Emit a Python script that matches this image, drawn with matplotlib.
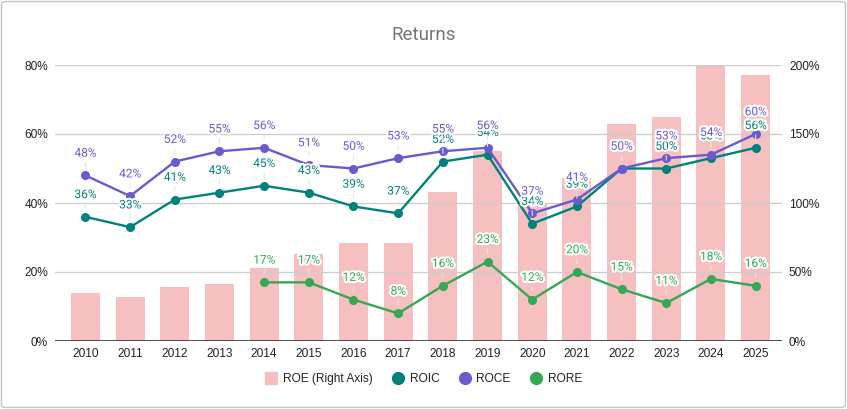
import matplotlib
matplotlib.use("Agg")
import numpy as np
import matplotlib.pyplot as plt
import matplotlib.patheffects as pe
from matplotlib.patches import FancyBboxPatch
from matplotlib.lines import Line2D
from matplotlib.ticker import PercentFormatter

years = [str(y) for y in range(2010, 2026)]
roe = [35, 32, 39, 41, 53, 63, 71, 71, 108, 138, 100, 118, 157, 162, 199, 193]
roic = [36, 33, 41, 43, 45, 43, 39, 37, 52, 54, 34, 39, 50, 50, 53, 56]
roce = [48, 42, 52, 55, 56, 51, 50, 53, 55, 56, 37, 41, 50, 53, 54, 60]
rore = [np.nan, np.nan, np.nan, np.nan, 17, 17, 12, 8, 16, 23, 12, 20, 15, 11, 18, 16]

c_roe = "#f6bfc0"
c_roic = "#00827c"
c_roce = "#6b5acf"
c_rore = "#34a853"

plt.rcParams['font.family'] = ['Liberation Sans', 'DejaVu Sans']

W, H = 847, 409
fig = plt.figure(figsize=(W / 100, H / 100), dpi=100)
fig.patch.set_facecolor("white")
fig.patches.append(FancyBboxPatch((1.5 / W, 1.5 / H), (W - 3) / W, (H - 3) / H,
                                  boxstyle="round,pad=0,rounding_size=0.006",
                                  transform=fig.transFigure, facecolor="none",
                                  edgecolor="#c4c4c4", lw=1))

ax_l, ax_r, ax_b, ax_t = 55, 782, 341, 65
ax = fig.add_axes([ax_l / W, (H - ax_b) / H, (ax_r - ax_l) / W, (ax_b - ax_t) / H])
ax2 = ax.twinx()
x = np.arange(len(years))

# bars on the right axis, drawn behind the lines
ax2.bar(x, roe, width=0.65, color=c_roe, zorder=1)
ax2.set_ylim(0, 200)
ax2.yaxis.set_major_formatter(PercentFormatter(decimals=0))
ax2.set_yticks([0, 50, 100, 150, 200])

ax.set_zorder(ax2.get_zorder() + 1)
ax.patch.set_visible(False)
ax.set_ylim(0, 80)
ax.set_xlim(-0.68, 15.59)
ax.set_yticks([0, 20, 40, 60, 80])
ax.yaxis.set_major_formatter(PercentFormatter(decimals=0))
ax.set_xticks(x)
ax.set_xticklabels(years)
ax.grid(axis='y', color="#cccccc", lw=0.9, zorder=0)
ax.set_axisbelow(True)

for a in (ax, ax2):
    for s in ("top", "left", "right"):
        a.spines[s].set_visible(False)
    a.spines["bottom"].set_visible(False)
    a.tick_params(length=0, labelsize=8.6, colors="#222222", pad=5)
ax.axhline(0, color="#333333", lw=1.2, zorder=3)

stroke = [pe.withStroke(linewidth=3, foreground="white")]
for vals, col in ((roic, c_roic), (roce, c_roce), (rore, c_rore)):
    ax.plot(x, vals, color=col, lw=1.7, marker='o', ms=5.5, zorder=4)
    for xi, v in zip(x, vals):
        if np.isnan(v):
            continue
        ax.annotate(f"{v:.0f}%", (xi, v), xytext=(0, 16), textcoords="offset points",
                    ha="center", va="center", fontsize=8.6, color=col,
                    family=['Roboto', 'DejaVu Sans'], path_effects=stroke, zorder=5,
                    arrowprops=dict(arrowstyle='-', color="#e6e6e6", lw=0.8,
                                    shrinkA=0, shrinkB=6))

fig.text(0.5, (H - 35) / H, "Returns", ha="center", va="center", fontsize=13.5,
         color="#757575", family=['Roboto', 'DejaVu Sans'])

handles = [
    Line2D([], [], marker='s', color=c_roe, linestyle='none', ms=8.5),
    Line2D([], [], marker='o', color=c_roic, linestyle='none', ms=8.5),
    Line2D([], [], marker='o', color=c_roce, linestyle='none', ms=8.5),
    Line2D([], [], marker='o', color=c_rore, linestyle='none', ms=8.5),
]
fig.legend(handles, ["ROE (Right Axis)", "ROIC", "ROCE", "RORE"], loc="center",
           bbox_to_anchor=(0.5, (H - 379) / H), ncol=4, frameon=False,
           fontsize=8.6, handlelength=1, handletextpad=0.5, columnspacing=1.6,
           labelcolor="#222222")

fig.savefig("out.png", dpi=100)
